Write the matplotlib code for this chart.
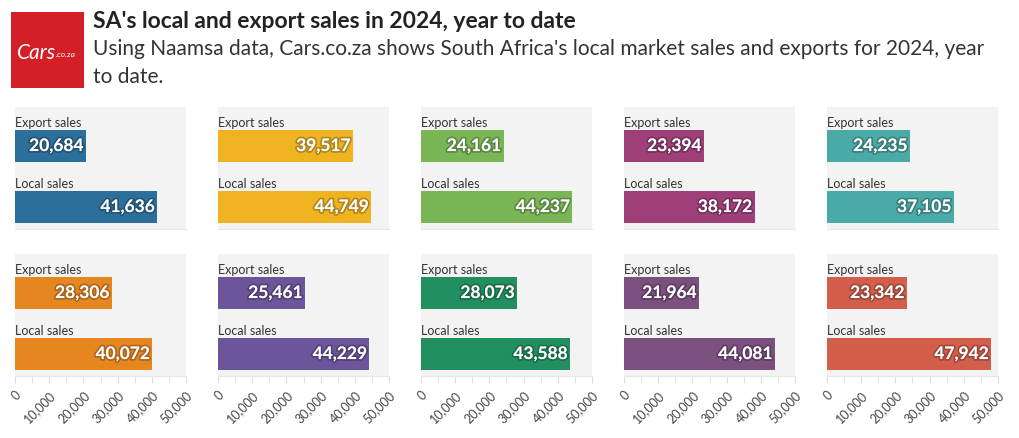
import matplotlib.pyplot as plt
import matplotlib.patheffects as pe
from matplotlib.patches import Rectangle

# data
categories = ["Export sales", "Local sales"]
export_sales = [20684, 39517, 24161, 23394, 24235, 28306, 25461, 28073, 21964, 23342]
local_sales = [41636, 44749, 44237, 38172, 37105, 40072, 44229, 43588, 44081, 47942]
colors = ["#2d6f9b", "#efb220", "#7ab556", "#9e3f7a", "#4aaaa7",
          "#e6861f", "#6c559b", "#228f60", "#7b4f7e", "#d45e4c"]
ticks = [0, 10000, 20000, 30000, 40000, 50000]

W, H = 1020, 439
fig = plt.figure(figsize=(W / 100, H / 100), dpi=100)
plt.rcParams['font.family'] = ['Lato', 'DejaVu Sans']

# logo
logo = fig.add_axes([11 / W, 1 - 89 / H, 73 / W, 76 / H])
logo.add_patch(Rectangle((0, 0), 1, 1, color="#d41f26"))
logo.text(0.62, 0.47, "Cars", color="white", fontsize=15, style="italic",
          ha="right", va="center")
logo.text(0.62, 0.45, ".co.za", color="white", fontsize=6, style="italic",
          ha="left", va="center")
logo.set_xlim(0, 1)
logo.set_ylim(0, 1)
logo.axis("off")

fig.text(93 / W, 1 - 22 / H, "SA's local and export sales in 2024, year to date",
         fontsize=16.5, fontweight="bold", color="#222222", va="center")
fig.text(93 / W, 1 - 49 / H,
         "Using Naamsa data, Cars.co.za shows South Africa's local market sales and exports for 2024, year",
         fontsize=15, color="#333333", va="center")
fig.text(93 / W, 1 - 77 / H, "to date.", fontsize=15, color="#333333", va="center")

col_left = [15, 218, 421, 624, 827]
row_top = [108, 255]
pw, ph = 171, 122

for k in range(10):
    r, c = divmod(k, 5)
    ax = fig.add_axes([col_left[c] / W, 1 - (row_top[r] + ph) / H, pw / W, ph / H])
    ax.set_facecolor("#f3f3f3")
    vals = [export_sales[k], local_sales[k]]
    ax.barh([0, 1], vals, height=0.52, color=colors[k])
    for i, v in enumerate(vals):
        ax.text(0, i - 0.3, categories[i], fontsize=9, color="#333333",
                ha="left", va="bottom")
        t = ax.text(v - 700, i, f"{v:,}", fontsize=12.5, fontweight="bold",
                    color="white", ha="right", va="center")
        t.set_path_effects([pe.withStroke(linewidth=2.5, foreground=(0, 0, 0, 0.25))])
    ax.set_xlim(0, 50000)
    ax.set_ylim(1.36, -0.64)
    ax.set_yticks([])
    for s in ["top", "right", "left"]:
        ax.spines[s].set_visible(False)
    ax.spines["bottom"].set_color("#e6e6e6")
    ax.set_xticks(ticks)
    ax.set_xticks(range(5000, 50000, 10000), minor=True)
    ax.tick_params(axis="x", which="both", color="#dddddd", length=5)
    if r == 1:
        ax.set_xticklabels([f"{t:,}" for t in ticks], rotation=45, ha="right",
                           rotation_mode="anchor", fontsize=9, color="#444444")
    else:
        ax.tick_params(axis="x", which="both", length=0, labelbottom=False)

fig.savefig("out.png", dpi=100)
